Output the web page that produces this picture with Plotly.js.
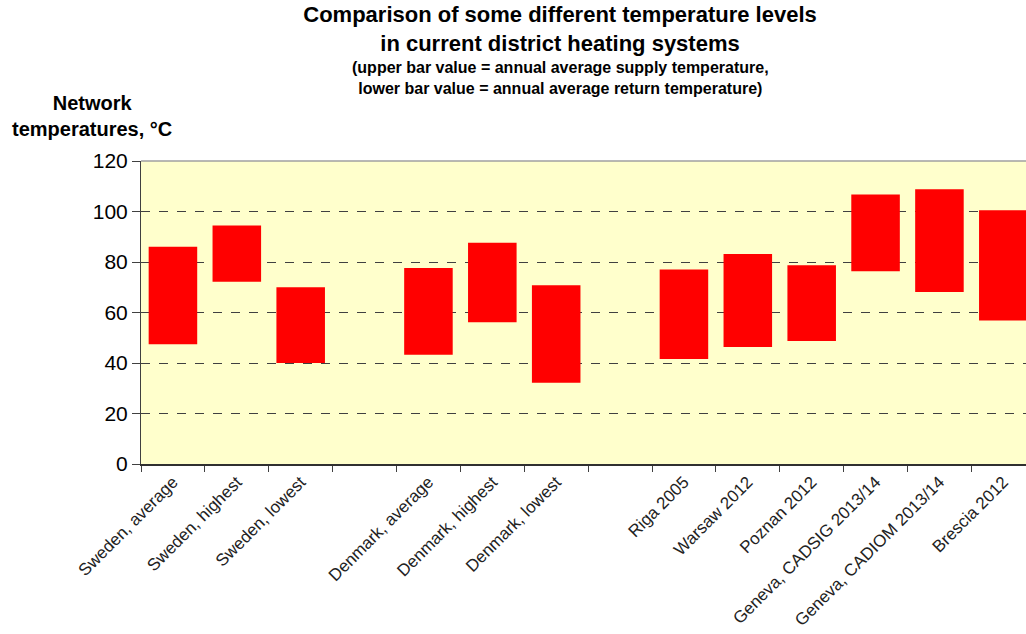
<!DOCTYPE html>
<html>
<head>
<meta charset="utf-8">
<script src="https://cdn.plot.ly/plotly-3.0.1.min.js"></script>
<style>html,body{margin:0;padding:0;background:#fff;overflow:hidden;}</style>
</head>
<body>
<div id="chart" style="width:1026px;height:634px;"></div>
<script>
// Categories (blank slots separate the groups)
const categories = [
  "Sweden, average", "Sweden, highest", "Sweden, lowest", " ",
  "Denmark, average", "Denmark, highest", "Denmark, lowest", "  ",
  "Riga 2005", "Warsaw 2012", "Poznan 2012", "Geneva, CADSIG 2013/14",
  "Geneva, CADIOM 2013/14", "Brescia 2012"
];
// Annual average supply temperature (upper bar value), °C
const supplyTemp = [86, 94.5, 70, null, 77.6, 87.6, 70.8, null, 77, 83.2, 78.7, 106.7, 108.8, 100.5];
// Annual average return temperature (lower bar value), °C
const returnTemp = [47.4, 72.2, 40, null, 43.3, 56.1, 32.2, null, 41.6, 46.3, 48.7, 76.3, 68.1, 56.8];
const yTicks = [0, 20, 40, 60, 80, 100, 120];

const spans = supplyTemp.map((s, i) => (s === null ? null : s - returnTemp[i]));

const trace = {
  type: "bar",
  x: categories,
  y: spans,
  base: returnTemp,
  width: 0.76,
  marker: {color: "#FF0000", line: {width: 0}},
  hoverinfo: "x+y"
};

const plotLeft = 141, plotRight = 1026, plotTop = 161, plotBottom = 464;
const catWidth = 63.875;
const plotW = plotRight - plotLeft;
const plotH = plotBottom - plotTop;

const layout = {
  width: 1026,
  height: 634,
  margin: {l: plotLeft, r: 1026 - plotRight, t: plotTop, b: 634 - plotBottom, pad: 0},
  paper_bgcolor: "#FFFFFF",
  plot_bgcolor: "#FFFFCC",
  showlegend: false,
  font: {family: "Liberation Sans, Arial, sans-serif", color: "#000"},
  title: {
    text: "<b>Comparison of some different temperature levels<br>in current district heating systems</b>",
    font: {size: 22, color: "#000", family: "Liberation Sans, Arial, sans-serif"},
    x: 560 / 1026, xanchor: "center", xref: "container",
    y: 1 - 22 / 634, yanchor: "middle", yref: "container"
  },
  xaxis: {
    type: "category",
    range: [-0.5, -0.5 + plotW / catWidth],
    tickson: "boundaries",
    ticks: "outside",
    ticklen: 6,
    tickcolor: "#404040",
    tickwidth: 1,
    tickangle: -45,
    tickfont: {size: 17, color: "#222"},
    showline: true,
    linecolor: "#303030",
    linewidth: 1.5,
    showgrid: false,
    zeroline: false,
    fixedrange: true
  },
  yaxis: {
    range: [0, 120],
    tickvals: yTicks,
    ticktext: yTicks.map(String),
    ticks: "outside",
    ticklen: 8,
    tickcolor: "#404040",
    tickfont: {size: 21, color: "#000"},
    showline: true,
    linecolor: "#404040",
    linewidth: 1,
    showgrid: true,
    gridcolor: "#404040",
    gridwidth: 1,
    griddash: "dash",
    zeroline: false,
    fixedrange: true
  },
  shapes: [
    {type: "line", xref: "paper", yref: "paper", x0: 0, x1: 1, y0: 1, y1: 1,
     line: {color: "#A0A0A0", width: 1.5}}
  ],
  annotations: [
    {
      text: "<b>(upper bar value = annual average supply temperature,<br>lower bar value = annual average return temperature)</b>",
      xref: "paper", yref: "paper",
      x: (560 - plotLeft) / plotW, y: (plotBottom - 78) / plotH,
      xanchor: "center", yanchor: "middle",
      showarrow: false,
      font: {size: 16, color: "#000"}
    },
    {
      text: "<b>Network<br>temperatures, °C</b>",
      xref: "paper", yref: "paper",
      x: (92 - plotLeft) / plotW, y: (plotBottom - 116) / plotH,
      xanchor: "center", yanchor: "middle",
      showarrow: false,
      font: {size: 20, color: "#000"}
    }
  ]
};

Plotly.newPlot("chart", [trace], layout, {displayModeBar: false, staticPlot: true});
</script>
</body>
</html>
